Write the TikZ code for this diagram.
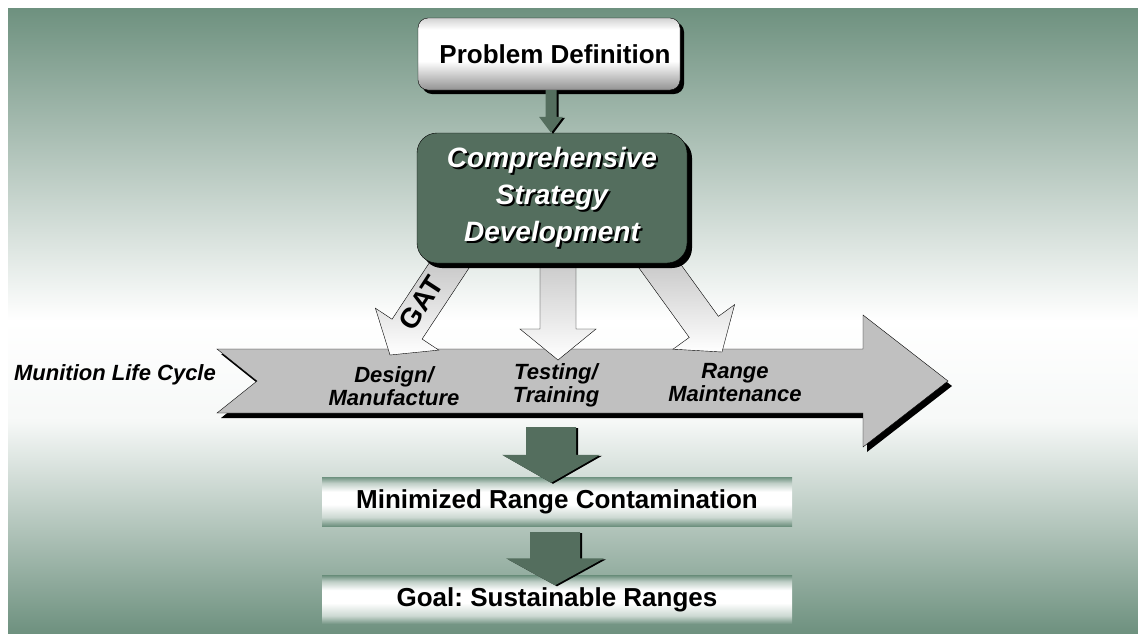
\documentclass[tikz,border=0pt]{standalone}
\usepackage{fontspec}
\setmainfont{Liberation Sans}
\usetikzlibrary{calc,positioning,shadows}
\frenchspacing

\definecolor{bggreen}{HTML}{6E917F}
\definecolor{boxgreen}{HTML}{546E5E}
\definecolor{lifegray}{HTML}{C0C0C0}

\pgfdeclarelayer{bg}
\pgfdeclarelayer{flow}
\pgfsetlayers{bg,flow,main}

% vertical shadings, the path fills the 25bp--75bp band
\pgfdeclareverticalshading{backdrop}{100bp}{color(0bp)=(bggreen); color(25bp)=(bggreen);
  color(42bp)=(white!94!bggreen); color(50bp)=(white); color(75bp)=(bggreen); color(100bp)=(bggreen)}
\pgfdeclareverticalshading{bandshade}{100bp}{color(0bp)=(bggreen); color(25bp)=(bggreen);
  color(34bp)=(bggreen!35!white); color(47bp)=(white); color(60bp)=(white);
  color(69bp)=(bggreen!45!white); color(75bp)=(bggreen); color(100bp)=(bggreen)}
\pgfdeclareverticalshading{chrome}{100bp}{color(0bp)=(gray!85); color(25bp)=(gray!85);
  color(45bp)=(white); color(67bp)=(white); color(75bp)=(gray!35); color(100bp)=(gray!35)}

% white text with a black copy behind it
\newcommand{\castshadow}[1]{\rlap{\hspace{2pt}\raisebox{-2pt}{\color{black}#1}}#1}

% block arrow: style, from, to, shaft half width, head half width, head length
\newcommand{\blockarrow}[6]{%
  \coordinate (ba-base) at ($(#3)!#6!(#2)$);
  \path[#1] ($(#2)!#4!90:(#3)$) -- ($(ba-base)!#4!90:(#3)$) -- ($(ba-base)!#5!90:(#3)$)
    -- (#3) -- ($(ba-base)!#5!-90:(#3)$) -- ($(ba-base)!#4!-90:(#3)$) -- ($(#2)!#4!-90:(#3)$) -- cycle;}

\begin{document}
\begin{tikzpicture}[x=1pt,y=-1pt,
    chromebox/.style={
      shade,
      shading=chrome,
      draw=black,
      rounded corners=10pt,
      minimum width=262pt,
      minimum height=72pt,
      font=\fontsize{26}{30}\selectfont\bfseries,
      drop shadow={shadow xshift=4pt,shadow yshift=-4pt,opacity=1,fill=black}
    },
    strategybox/.style={
      fill=boxgreen,
      draw=black,
      rounded corners=20pt,
      minimum width=270pt,
      minimum height=130pt,
      align=center,
      text=white,
      font=\fontsize{28}{37}\selectfont\bfseries\itshape,
      drop shadow={shadow xshift=5pt,shadow yshift=-5pt,opacity=1,fill=black}
    },
    stage/.style={
      align=center,
      font=\fontsize{22}{23}\selectfont\bfseries\itshape
    },
    band/.style={
      shade,
      shading=bandshade,
      minimum width=470pt,
      minimum height=49pt,
      font=\fontsize{26}{30}\selectfont\bfseries
    },
    feed/.style={draw=black,top color=gray!55,bottom color=white},
    push/.style={fill=boxgreen,
      drop shadow={shadow xshift=2pt,shadow yshift=-1pt,opacity=1,fill=black}}
  ]
  \useasboundingbox (0,0) rectangle (1138,633);
  \begin{pgfonlayer}{bg}
    \fill[white] (0,0) rectangle (1138,633);
    \shade[shading=backdrop] (8,8) rectangle (1138,633);
  \end{pgfonlayer}

  \node[chromebox] (problem) at (549,54) {\hspace{12pt}Problem Definition};
  \node[strategybox] (strategy) at (552,198)
    {\castshadow{Comprehensive}\\\castshadow{Strategy}\\\castshadow{Development}};

  % life cycle arrow and the three feeds into it
  \begin{pgfonlayer}{flow}
    \draw[fill=lifegray,drop shadow={shadow xshift=4pt,shadow yshift=-5pt,opacity=1,fill=black}]
      (217,349) -- (863,349) -- (863,315) -- (948,381) -- (863,447) -- (863,413)
      -- (217,413) -- (257,381) -- cycle;
    \coordinate (design-out) at ($(strategy.center)+(-90,48)$);
    \coordinate (testing-out) at ($(strategy.center)+(6,32)$);
    \coordinate (range-out) at ($(strategy.center)+(94,49)$);
    \coordinate (design-in) at (390,355);
    \coordinate (testing-in) at (558,360);
    \coordinate (range-in) at (722,352);
    \blockarrow{feed}{design-out}{design-in}{18pt}{38pt}{31pt}
    \blockarrow{feed}{testing-out}{testing-in}{18pt}{38pt}{31pt}
    \blockarrow{feed}{range-out}{range-in}{18pt}{38pt}{31pt}
  \end{pgfonlayer}

  \node[font=\fontsize{28}{30}\selectfont\bfseries,rotate=57,inner sep=0pt] (gat) at (421,303) {GAT};

  \node[stage] (munition) at (115,375) {Munition Life Cycle};
  \node[stage] (design) at (394,386) {Design/\\Manufacture};
  \node[stage] (testing) at (556,385) {Testing/\\Training};
  \node[stage] (range) at (735,383) {Range\\Maintenance};

  \node[band] (reduced) at (557,501.5) {Minimized Range Contamination};
  \node[band] (goal) at (557,600) {Goal: Sustainable Ranges};

  \coordinate (problem-out) at ($(problem.south)+(2,0)$);
  \coordinate (strategy-in) at ($(strategy.north)+(-1,0)$);
  \coordinate (cycle-out) at (551,427);
  \coordinate (reduced-in) at ($(reduced.north)+(-6,6)$);
  \coordinate (reduced-out) at ($(reduced.south)+(-2,6)$);
  \coordinate (goal-in) at ($(goal.north)+(-2,10)$);
  \blockarrow{push}{problem-out}{strategy-in}{5.5pt}{12pt}{16pt}
  \blockarrow{push}{cycle-out}{reduced-in}{25pt}{49pt}{28pt}
  \blockarrow{push}{reduced-out}{goal-in}{25pt}{49pt}{27pt}
\end{tikzpicture}
\end{document}
